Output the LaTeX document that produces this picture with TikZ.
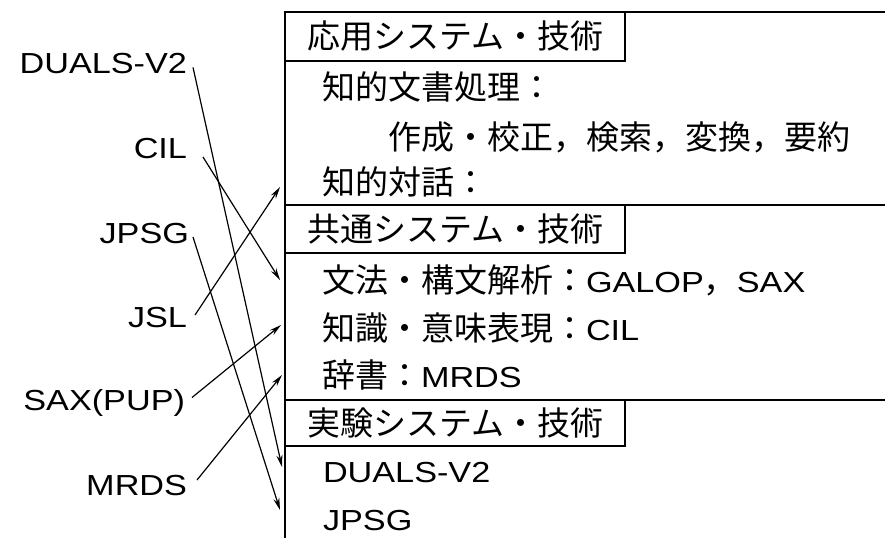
\documentclass[tikz,border=0pt]{standalone}
\usepackage{fontspec}
\setmainfont{Noto Sans CJK JP}
\newfontfamily\latfont[FakeStretch=1.18]{Liberation Sans}
\newcommand\latn[1]{{\latfont\fontsize{29}{35}\selectfont #1}}
\usetikzlibrary{arrows.meta}
\begin{document}
\begin{tikzpicture}[x=1pt,y=-1pt,
  jp/.style={font=\fontsize{33}{40}\selectfont, inner sep=0pt, outer sep=0pt, anchor=base west},
  lbl/.style={font=\latfont\fontsize{29}{35}\selectfont, inner sep=0pt, outer sep=0pt, anchor=base east},
  frame/.style={line width=1.3pt},
  titlebox/.style={draw, fill=white, line width=1.3pt, minimum width=340pt, minimum height=49pt,
    inner sep=0pt, outer sep=0pt, anchor=north west, font=\fontsize{33}{40}\selectfont},
  arr/.style={line width=1.2pt, -{Stealth[length=12pt,width=6pt]}}]
\fill[white] (0,0) rectangle (885,538);
\useasboundingbox (0,0) rectangle (885,538);

% frame
\draw[frame] (285,12) -- (285,538);
\draw[frame] (285,12) -- (885,12);
\draw[frame] (285,205) -- (885,205);
\draw[frame] (285,400) -- (885,400);

% section titles
\node[titlebox] (s1) at (285,12) {応用システム・技術};
\node[titlebox, minimum height=48pt] (s2) at (285,205) {共通システム・技術};
\node[titlebox, minimum height=46pt] (s3) at (285,400) {実験システム・技術};

% section contents
\node[jp] (a1) at (322,99.5) {知的文書処理：};
\node[jp] (a2) at (388,149.5) {作成・校正，検索，変換，要約};
\node[jp] (a3) at (322,194.5) {知的対話：};
\node[jp] (b1) at (322,292) {文法・構文解析：\latn{GALOP}，\latn{SAX}};
\node[jp] (b2) at (322,340) {知識・意味表現：\latn{CIL}};
\node[jp] (b3) at (322,387) {辞書：\latn{MRDS}};
\node[jp] (c1) at (323,482.5) {\latn{DUALS-V2}};
\node[jp] (c2) at (323,530.5) {\latn{JPSG}};

% left labels
\node[lbl] (l1) at (187,73.4) {DUALS-V2};
\node[lbl] (l2) at (187,158) {CIL};
\node[lbl] (l3) at (189,243) {JPSG};
\node[lbl] (l4) at (187,327) {JSL};
\node[lbl] (l5) at (185,410.5) {SAX(PUP)};
\node[lbl] (l6) at (187,495) {MRDS};

% arrow targets
\coordinate (tD) at (282,467);
\coordinate (tJ) at (280,510);
\coordinate (tC) at (280,280);
\coordinate (tS) at (280,187);
\coordinate (tX) at (281,325);
\coordinate (tM) at (282,375);

% arrows
\draw[arr] ([xshift=6pt,yshift=6pt]l1.base east) -- (tD);
\draw[arr] ([xshift=16pt,yshift=1pt]l2.base east) -- (tC);
\draw[arr] ([xshift=4pt,yshift=6pt]l3.base east) -- (tJ);
\draw[arr] ([xshift=8pt,yshift=12pt]l4.base east) -- (tS);
\draw[arr] ([xshift=7pt,yshift=13pt]l5.base east) -- (tX);
\draw[arr] ([xshift=10pt,yshift=15pt]l6.base east) -- (tM);
\end{tikzpicture}
\end{document}
